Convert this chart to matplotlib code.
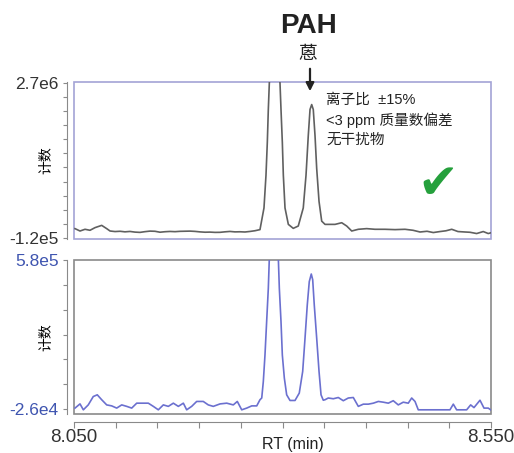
import matplotlib.pyplot as plt
from matplotlib.patches import Rectangle
import numpy as np

# retention time (min) and counts (x1e5)
top_rt = [
    8.0512, 8.0572, 8.0632, 8.0692, 8.0752, 8.0832, 8.0892, 8.0932,
    8.0992, 8.1052, 8.1111, 8.1171, 8.1231, 8.1291, 8.1351, 8.1411, 8.1471, 8.1531,
    8.1591, 8.1651, 8.1711, 8.1771, 8.1831, 8.1891, 8.1951, 8.2011, 8.2071, 8.2131,
    8.2191, 8.2251, 8.2310, 8.2370, 8.2430, 8.2490, 8.2550, 8.2610, 8.2670, 8.2730,
    8.2778, 8.2802, 8.2818, 8.2830, 8.2842, 8.2862, 8.2886, 8.2905,
    8.2928, 8.2952, 8.2970, 8.2982, 8.2998, 8.3010, 8.3030, 8.3070,
    8.3129, 8.3189,
    8.3249, 8.3282, 8.3309, 8.3330, 8.3350, 8.3369, 8.3390, 8.3410, 8.3438, 8.3470, 8.3510,
    8.3630, 8.3710, 8.3770, 8.3830, 8.3909, 8.4009, 8.4109, 8.4229, 8.4349, 8.4469,
    8.4565, 8.4649, 8.4733, 8.4808, 8.4888, 8.4960, 8.5029, 8.5104, 8.5188, 8.5248,
    8.5328, 8.5407, 8.5467, 8.5500,
]
top_counts_e5 = [
    0.53, 0.10, 0.41, 0.23, 0.71, 1.12, 0.53, 0.10,
    0.00, 0.05, -0.05, 0.02, -0.10, -0.15, -0.02, 0.08, 0.05, -0.12,
    -0.03, 0.02, -0.02, 0.04, 0.06, 0.08, 0.03, -0.06, -0.12, -0.10,
    -0.15, -0.14, -0.05, 0.02, -0.06, -0.04, -0.08, 0.02, 0.15, 0.35,
    4.28, 10.22, 16.17, 22.13, 26.9, 31.0, 32.8, 33.2,
    32.5, 30.0, 26.9, 22.13, 16.17, 10.22, 4.28, 1.30,
    0.58, 1.00,
    4.28, 10.22, 17.36, 22.13, 23.02, 22.13, 17.36, 11.42, 5.46, 1.89, 1.30,
    1.30, 1.60, 1.00, 0.10, 0.41, 0.53, 0.41, 0.41, 0.35, 0.41,
    0.23, -0.08, 0.05, -0.18, 0.00, 0.14, 0.41, 0.00, -0.08, -0.13,
    -0.36, 0.00, -0.36, -0.22,
]

bottom_rt = [
    8.0512, 8.0572, 8.0612, 8.0671, 8.0731, 8.0779, 8.0832, 8.0892, 8.0952, 8.1012,
    8.1072, 8.1132, 8.1192, 8.1252, 8.1331, 8.1391, 8.1451, 8.1511, 8.1571, 8.1631,
    8.1691, 8.1751, 8.1811, 8.1851, 8.1911, 8.1971, 8.2050, 8.2110, 8.2170, 8.2251,
    8.2331, 8.2410, 8.2458, 8.2511, 8.2571, 8.2631, 8.2691, 8.2730,
    8.2751, 8.2770, 8.2790, 8.2810, 8.2830, 8.2842, 8.2868, 8.2896, 8.2922, 8.2950,
    8.2962, 8.2982, 8.2998, 8.3022, 8.3050, 8.3090, 8.3150,
    8.3201, 8.3242, 8.3270, 8.3297, 8.3321, 8.3345, 8.3362, 8.3381, 8.3410, 8.3438,
    8.3462, 8.3489, 8.3510,
    8.3549, 8.3609, 8.3669, 8.3729, 8.3789, 8.3849, 8.3909, 8.3969, 8.4029, 8.4089,
    8.4149, 8.4209, 8.4269, 8.4328, 8.4388, 8.4448, 8.4508, 8.4549, 8.4589, 8.4628,
    8.5008, 8.5048, 8.5088, 8.5208, 8.5256, 8.5296, 8.5368, 8.5416, 8.5467, 8.5496,
]
bottom_counts_e5 = [
    -0.22, -0.05, -0.29, -0.09, 0.25, 0.32, 0.12, -0.09, -0.13, -0.22,
    -0.09, -0.15, -0.22, -0.02, -0.02, -0.02, -0.15, -0.29, -0.09, -0.15,
    -0.02, -0.15, -0.02, -0.29, -0.15, 0.05, 0.05, -0.09, -0.15, -0.05,
    -0.02, -0.09, 0.05, -0.29, -0.22, -0.13, -0.13, 0.12,
    0.19, 0.86, 1.94, 3.30, 4.65, 5.87, 6.60, 6.90, 6.60, 5.87,
    4.65, 3.30, 1.94, 1.00, 0.32, 0.09, 0.09,
    0.39, 1.27, 2.62, 3.97, 4.92, 5.23, 5.00, 3.97, 2.62, 1.27,
    0.32, 0.10, 0.12,
    0.19, 0.16, 0.21, 0.08, 0.19, 0.21, -0.15, -0.06, -0.06, -0.02,
    0.05, 0.02, -0.02, 0.08, -0.09, 0.02, -0.02, 0.19, 0.05, -0.29,
    -0.29, -0.06, -0.29, -0.29, -0.09, -0.20, 0.10, -0.22, -0.22, -0.29,
]

x_labels = ["8.050", "8.550"]
top_ylabels = ["-1.2e5", "2.7e6"]
bottom_ylabels = ["-2.6e4", "5.8e5"]
notes = ["离子比  ±15%", "<3 ppm 质量数偏差", "无干扰物"]

assert len(top_rt) == len(top_counts_e5)
assert len(bottom_rt) == len(bottom_counts_e5)

plt.rcParams["font.family"] = ["Liberation Sans", "Noto Sans CJK SC", "DejaVu Sans"]

W, H = 514, 453


def fx(px):
    return px / W


def fy(py):
    return 1 - py / H


fig = plt.figure(figsize=(W / 100, H / 100), dpi=100)
ax_top = fig.add_axes([fx(74), fy(239), fx(491) - fx(74), fy(81.5) - fy(239)])
ax_bot = fig.add_axes([fx(74), fy(414), fx(491) - fx(74), fy(259.5) - fy(414)])

ax_top.plot(top_rt, np.array(top_counts_e5) * 1e5, color="#606060", lw=1.2)
ax_bot.plot(bottom_rt, np.array(bottom_counts_e5) * 1e5, color="#6b70cf", lw=1.2)

panels = [
    (ax_top, (-1.35e5, 2.72e6), (-1.2e5, 2.7e6), 12, top_ylabels, "#333333", "#a3a3d6"),
    (ax_bot, (-4.6e4, 5.82e5), (-2.6e4, 5.8e5), 7, bottom_ylabels, "#3f55b0", "#8a8a8a"),
]
for ax, ylim, (lo, hi), nticks, labels, label_color, frame_color in panels:
    ax.set_xlim(8.05, 8.55)
    ax.set_ylim(*ylim)
    for side in ["top", "right", "bottom"]:
        ax.spines[side].set_visible(False)
    ax.spines["left"].set_position(("outward", 5))
    ax.spines["left"].set_color("#8a8a8a")
    ticks = np.linspace(lo, hi, nticks)
    ax.set_yticks(ticks)
    ax.set_yticklabels([labels[0]] + [""] * (nticks - 2) + [labels[1]])
    ax.tick_params(axis="y", direction="out", length=3, width=0.8, color="#8a8a8a",
                   labelsize=12.5, labelcolor=label_color, pad=3)
    ax.add_patch(Rectangle((0, 0), 1, 1, transform=ax.transAxes, fill=False,
                           edgecolor=frame_color, lw=1.2, clip_on=False))
    ax.set_ylabel("计数", fontsize=10)
    ax.yaxis.set_label_coords(-0.05, 0.5)

ax_top.set_xticks([])

ax_bot.spines["bottom"].set_visible(True)
ax_bot.spines["bottom"].set_position(("outward", 6))
ax_bot.spines["bottom"].set_color("#8a8a8a")
xt = np.round(np.arange(8.05, 8.551, 0.05), 3)
ax_bot.set_xticks(xt)
ax_bot.set_xticklabels([x_labels[0]] + [""] * (len(xt) - 2) + [x_labels[1]])
ax_bot.tick_params(axis="x", direction="out", length=4, width=0.8, color="#8a8a8a",
                   labelsize=13.5, labelcolor="#333333", pad=1)
fig.text(fx(293), fy(444), "RT (min)", fontsize=11.5, color="#222222",
         ha="center", va="center")

fig.text(fx(308), fy(26), "PAH", fontsize=20, fontweight="bold", color="#222222",
         ha="center", va="center")
fig.text(fx(308), fy(54), "蒽", fontsize=13.5, color="#222222",
         ha="center", va="center")
fig.add_artist(plt.Annotation("", xy=(fx(310), fy(94)), xytext=(fx(310), fy(66)),
                              xycoords="figure fraction",
                              arrowprops=dict(arrowstyle="-|>", color="#222222",
                                              lw=1.6, mutation_scale=12)))
for i, line in enumerate(notes):
    fig.text(fx(326), fy(100 + 20 * i), line, fontsize=10.5, color="#222222",
             ha="left", va="center")

fig.text(fx(438), fy(184), "\u2714", fontsize=35, color="#25a03c",
         family="DejaVu Sans", ha="center", va="center")

fig.savefig("out.png", dpi=100)
